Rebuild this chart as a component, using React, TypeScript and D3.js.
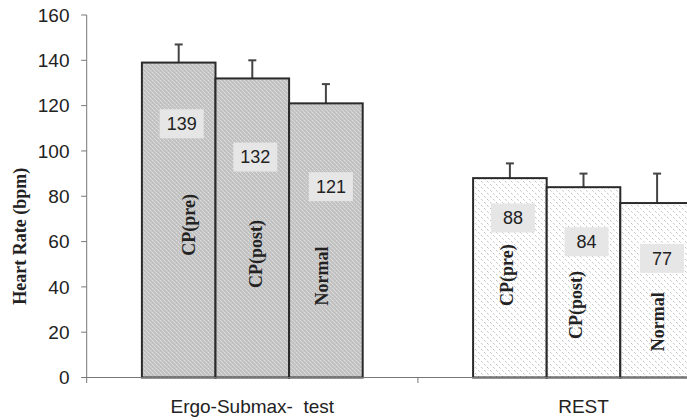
import React from "react";
import * as d3 from "d3";

const categories = ["Ergo-Submax-  test", "REST"];
const series = ["CP(pre)", "CP(post)", "Normal"];
const ergoValues = [139, 132, 121];
const restValues = [88, 84, 77];
const ergoSD = [8, 8, 8.5];
const restSD = [6.5, 6, 13];
const yTicks = [0, 20, 40, 60, 80, 100, 120, 140, 160];
// manual label placements (in data units) as in the original figure
const ergoLabelAt = [112, 97.3, 84.2];
const restLabelAt = [70.4, 59.9, 52.6];
const ergoNameAt = [67.4, 54.5, 44.8];
const restNameAt = [45.2, 32, 24.6];
const ergoNameDx = [9.5, 3, -4];
const restNameDx = [-3, -8, 1];
const labelDx = [3, 3, 5];

const W = 687;
const H = 420;
const x0 = 86.7;
const yZero = 377.5;
const yTop = 15;

export default function App() {
  const y = d3.scaleLinear().domain([0, 160]).range([yZero, yTop]);
  const xCat = d3.scaleBand<string>().domain(categories).range([x0, x0 + 2 * 331.2]).paddingInner(0).paddingOuter(0);
  const xSer = d3.scaleBand<string>().domain(series).range([0, xCat.bandwidth()]).paddingInner(0).paddingOuter(0.75);
  const groups = [
    { cat: categories[0], vals: ergoValues, sd: ergoSD, labelAt: ergoLabelAt, nameAt: ergoNameAt, nameDx: ergoNameDx, fill: "url(#patA)" },
    { cat: categories[1], vals: restValues, sd: restSD, labelAt: restLabelAt, nameAt: restNameAt, nameDx: restNameDx, fill: "url(#patB)" },
  ];
  const bw = xSer.bandwidth();
  return (
    <svg width={W} height={H} style={{ position: "absolute", left: 0, top: 0, background: "#fff" }}>
      <defs>
        <pattern id="patA" width="4" height="4" patternUnits="userSpaceOnUse">
          <rect width="4" height="4" fill="#c2c2c2" />
          <rect x="0" y="0" width="1" height="1" fill="#e0e0e0" />
          <rect x="2" y="2" width="1" height="1" fill="#e0e0e0" />
          <rect x="1" y="1" width="1" height="1" fill="#d4d4d4" />
          <rect x="3" y="3" width="1" height="1" fill="#d4d4d4" />
        </pattern>
        <pattern id="patB" width="6" height="6" patternUnits="userSpaceOnUse">
          <rect width="6" height="6" fill="#ffffff" />
          <rect x="1" y="1" width="1" height="1" fill="#c4c4c4" />
          <rect x="2" y="2" width="1" height="1" fill="#d8d8d8" />
          <rect x="4" y="4" width="1" height="1" fill="#c4c4c4" />
          <rect x="5" y="5" width="1" height="1" fill="#d8d8d8" />
        </pattern>
      </defs>
      {/* y axis */}
      <line x1={x0} x2={x0} y1={yTop} y2={yZero + 5.5} stroke="#777" strokeWidth={1} />
      {yTicks.map((t) => (
        <g key={t}>
          <line x1={x0 - 5.5} x2={x0} y1={y(t)} y2={y(t)} stroke="#777" strokeWidth={1} />
          <text x={69.5} y={y(t)} dy="0.35em" textAnchor="end" fontFamily="Liberation Sans, Arial" fontSize={19} fill="#222">
            {t}
          </text>
        </g>
      ))}
      <text
        transform={`translate(20,${(yTop + yZero) / 2 + 40}) rotate(-90)`}
        textAnchor="middle"
        dy="0.35em"
        fontFamily="Liberation Serif, Times New Roman"
        fontWeight="bold"
        fontSize={18}
        fill="#222"
      >
        Heart Rate (bpm)
      </text>
      {/* bars */}
      {groups.map((g) => (
        <g key={g.cat}>
          {series.map((s, i) => {
            const bx = (xCat(g.cat) as number) + (xSer(s) as number);
            const cx = bx + bw / 2;
            return (
              <g key={s}>
                <line x1={cx} x2={cx} y1={y(g.vals[i])} y2={y(g.vals[i] + g.sd[i])} stroke="#444" strokeWidth={2} />
                <line x1={cx - 4} x2={cx + 4} y1={y(g.vals[i] + g.sd[i])} y2={y(g.vals[i] + g.sd[i])} stroke="#444" strokeWidth={2} />
                <rect x={bx} y={y(g.vals[i])} width={bw} height={yZero - y(g.vals[i])} fill={g.fill} stroke="#2a2a2a" strokeWidth={2} />
              </g>
            );
          })}
        </g>
      ))}
      {/* labels */}
      {groups.map((g) => (
        <g key={g.cat + "lbl"}>
          {series.map((s, i) => {
            const bx = (xCat(g.cat) as number) + (xSer(s) as number);
            const cx = bx + bw / 2;
            const lx = cx + labelDx[i];
            const ly = y(g.labelAt[i]);
            const nx = cx + g.nameDx[i];
            const ny = y(g.nameAt[i]);
            return (
              <g key={s}>
                <rect x={lx - 22} y={ly - 14.5} width={44} height={29} fill="#e6e6e6" />
                <text x={lx} y={ly} dy="0.35em" textAnchor="middle" fontFamily="Liberation Sans, Arial" fontSize={18} fill="#222">
                  {g.vals[i]}
                </text>
                <text
                  transform={`translate(${nx},${ny}) rotate(-90)`}
                  textAnchor="middle"
                  dy="0.35em"
                  fontFamily="Liberation Serif, Times New Roman"
                  fontWeight="bold"
                  fontSize={18}
                  fill="#222"
                >
                  {s}
                </text>
              </g>
            );
          })}
        </g>
      ))}
      {/* x axis */}
      <line x1={x0} x2={W} y1={yZero} y2={yZero} stroke="#777" strokeWidth={1} />
      {categories.map((c, i) => (
        <g key={c}>
          <line x1={(xCat(c) as number) + xCat.bandwidth()} x2={(xCat(c) as number) + xCat.bandwidth()} y1={yZero} y2={yZero + 5.5} stroke="#777" />
          <text
            x={(xCat(c) as number) + xCat.bandwidth() / 2}
            y={413.3}
            textAnchor="middle"
            fontFamily="Liberation Sans, Arial"
            fontSize={19}
            fill="#222"
            style={{ whiteSpace: "pre" }}
          >
            {c}
          </text>
        </g>
      ))}
    </svg>
  );
}
